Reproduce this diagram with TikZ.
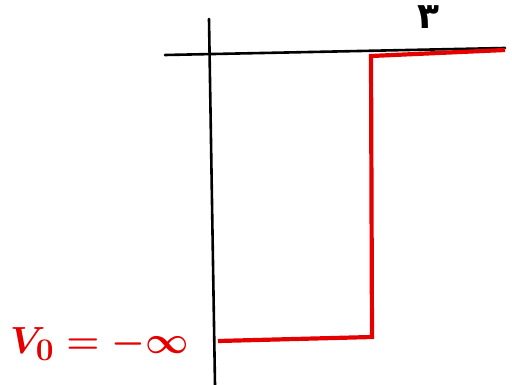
\documentclass[tikz,border=0pt]{standalone}
\usepackage{fontspec}
\usepackage{graphicx}
\newfontfamily\arabicfont[Script=Arabic]{DejaVu Sans Bold}
\TeXXeTstate=1
\begin{document}
\boldmath
\begin{tikzpicture}[x=1pt,y=-1pt,
  axis/.style={line width=2.6pt,black,line cap=round},
  well/.style={line width=4.2pt,red!90!black,line join=miter},
  lbl/.style={text=red!90!black,inner sep=0pt}]
\useasboundingbox (0,0) rectangle (512,385);
\coordinate (vtop) at (209,19);
\coordinate (vbot) at (215,385);
\coordinate (hl) at (165,55);
\coordinate (hr) at (505,48);
\draw[axis] (vtop) -- (vbot);
\draw[axis] (hl) -- (hr);
\coordinate (w0) at (218,341);
\coordinate (w1) at (372,337);
\coordinate (w2) at (371,56);
\coordinate (w3) at (505,50);
\draw[well] (w0) -- (w1) -- (w2) -- (w3);
\node[inner sep=0pt] (xl) at (428,17) {\fontsize{36}{36}\selectfont\arabicfont\beginR ۳\endR};
\node[lbl,anchor=west] (v0) at (10,344) {\scalebox{1.52}{\fontsize{24.88}{26}\selectfont $V_0=-\infty$}};
\end{tikzpicture}
\end{document}
